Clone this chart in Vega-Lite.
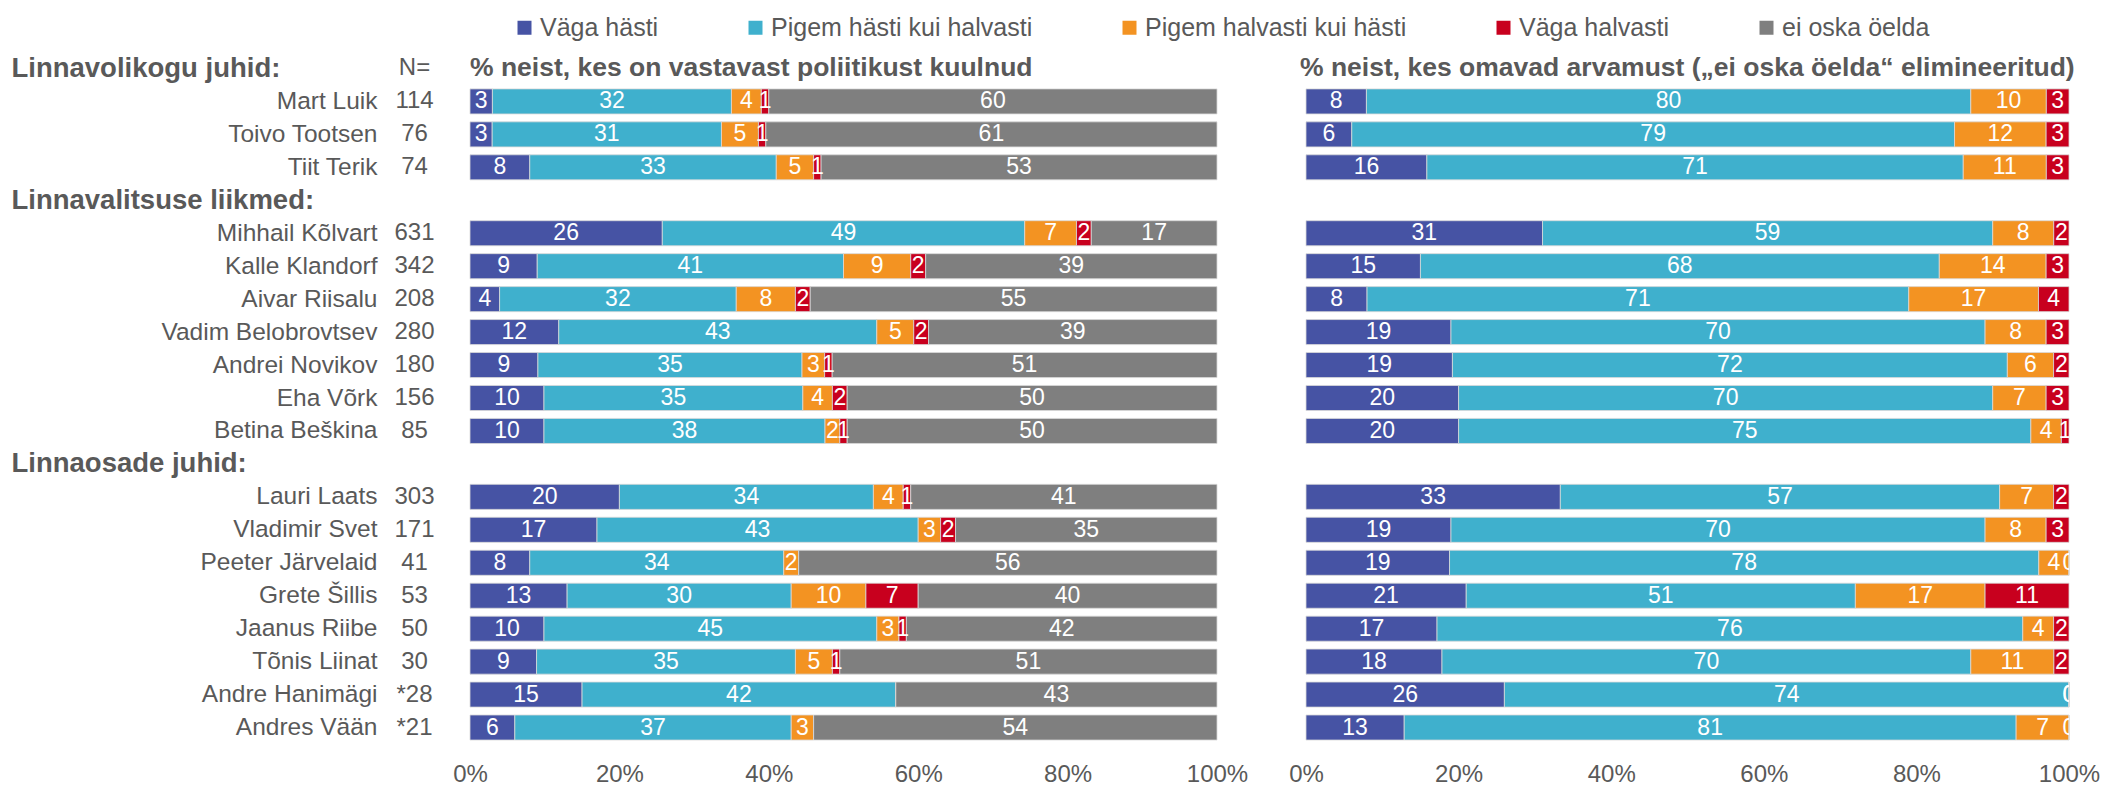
{
  "$schema": "https://vega.github.io/schema/vega-lite/v6.json",
  "padding": {"left": 11, "top": 15, "right": 5, "bottom": 0},
  "autosize": {"type": "pad"},
  "datasets": {
    "cats": [
      {"k": "Väga hästi", "rank": 1},
      {"k": "Pigem hästi kui halvasti", "rank": 2},
      {"k": "Pigem halvasti kui hästi", "rank": 3},
      {"k": "Väga halvasti", "rank": 4},
      {"k": "ei oska öelda", "rank": 5}
    ],
    "N": [
      {"r": "Linnavolikogu juhid:", "n": "N="},
      {"r": "Mart Luik", "n": "114"},
      {"r": "Toivo Tootsen", "n": "76"},
      {"r": "Tiit Terik", "n": "74"},
      {"r": "Mihhail Kõlvart", "n": "631"},
      {"r": "Kalle Klandorf", "n": "342"},
      {"r": "Aivar Riisalu", "n": "208"},
      {"r": "Vadim Belobrovtsev", "n": "280"},
      {"r": "Andrei Novikov", "n": "180"},
      {"r": "Eha Võrk", "n": "156"},
      {"r": "Betina Beškina", "n": "85"},
      {"r": "Lauri Laats", "n": "303"},
      {"r": "Vladimir Svet", "n": "171"},
      {"r": "Peeter Järvelaid", "n": "41"},
      {"r": "Grete Šillis", "n": "53"},
      {"r": "Jaanus Riibe", "n": "50"},
      {"r": "Tõnis Liinat", "n": "30"},
      {"r": "Andre Hanimägi", "n": "*28"},
      {"r": "Andres Vään", "n": "*21"}
    ],
    "L": [
      {"r": "Mart Luik", "Väga hästi": 3, "Pigem hästi kui halvasti": 32, "Pigem halvasti kui hästi": 4, "Väga halvasti": 1, "ei oska öelda": 60},
      {"r": "Toivo Tootsen", "Väga hästi": 3, "Pigem hästi kui halvasti": 31, "Pigem halvasti kui hästi": 5, "Väga halvasti": 1, "ei oska öelda": 61},
      {"r": "Tiit Terik", "Väga hästi": 8, "Pigem hästi kui halvasti": 33, "Pigem halvasti kui hästi": 5, "Väga halvasti": 1, "ei oska öelda": 53},
      {"r": "Mihhail Kõlvart", "Väga hästi": 26, "Pigem hästi kui halvasti": 49, "Pigem halvasti kui hästi": 7, "Väga halvasti": 2, "ei oska öelda": 17},
      {"r": "Kalle Klandorf", "Väga hästi": 9, "Pigem hästi kui halvasti": 41, "Pigem halvasti kui hästi": 9, "Väga halvasti": 2, "ei oska öelda": 39},
      {"r": "Aivar Riisalu", "Väga hästi": 4, "Pigem hästi kui halvasti": 32, "Pigem halvasti kui hästi": 8, "Väga halvasti": 2, "ei oska öelda": 55},
      {"r": "Vadim Belobrovtsev", "Väga hästi": 12, "Pigem hästi kui halvasti": 43, "Pigem halvasti kui hästi": 5, "Väga halvasti": 2, "ei oska öelda": 39},
      {"r": "Andrei Novikov", "Väga hästi": 9, "Pigem hästi kui halvasti": 35, "Pigem halvasti kui hästi": 3, "Väga halvasti": 1, "ei oska öelda": 51},
      {"r": "Eha Võrk", "Väga hästi": 10, "Pigem hästi kui halvasti": 35, "Pigem halvasti kui hästi": 4, "Väga halvasti": 2, "ei oska öelda": 50},
      {"r": "Betina Beškina", "Väga hästi": 10, "Pigem hästi kui halvasti": 38, "Pigem halvasti kui hästi": 2, "Väga halvasti": 1, "ei oska öelda": 50},
      {"r": "Lauri Laats", "Väga hästi": 20, "Pigem hästi kui halvasti": 34, "Pigem halvasti kui hästi": 4, "Väga halvasti": 1, "ei oska öelda": 41},
      {"r": "Vladimir Svet", "Väga hästi": 17, "Pigem hästi kui halvasti": 43, "Pigem halvasti kui hästi": 3, "Väga halvasti": 2, "ei oska öelda": 35},
      {"r": "Peeter Järvelaid", "Väga hästi": 8, "Pigem hästi kui halvasti": 34, "Pigem halvasti kui hästi": 2, "Väga halvasti": 0, "ei oska öelda": 56},
      {"r": "Grete Šillis", "Väga hästi": 13, "Pigem hästi kui halvasti": 30, "Pigem halvasti kui hästi": 10, "Väga halvasti": 7, "ei oska öelda": 40},
      {"r": "Jaanus Riibe", "Väga hästi": 10, "Pigem hästi kui halvasti": 45, "Pigem halvasti kui hästi": 3, "Väga halvasti": 1, "ei oska öelda": 42},
      {"r": "Tõnis Liinat", "Väga hästi": 9, "Pigem hästi kui halvasti": 35, "Pigem halvasti kui hästi": 5, "Väga halvasti": 1, "ei oska öelda": 51},
      {"r": "Andre Hanimägi", "Väga hästi": 15, "Pigem hästi kui halvasti": 42, "Pigem halvasti kui hästi": 0, "Väga halvasti": 0, "ei oska öelda": 43},
      {"r": "Andres Vään", "Väga hästi": 6, "Pigem hästi kui halvasti": 37, "Pigem halvasti kui hästi": 3, "Väga halvasti": 0, "ei oska öelda": 54}
    ],
    "R": [
      {"r": "Mart Luik", "Väga hästi": 8, "Pigem hästi kui halvasti": 80, "Pigem halvasti kui hästi": 10, "Väga halvasti": 3},
      {"r": "Toivo Tootsen", "Väga hästi": 6, "Pigem hästi kui halvasti": 79, "Pigem halvasti kui hästi": 12, "Väga halvasti": 3},
      {"r": "Tiit Terik", "Väga hästi": 16, "Pigem hästi kui halvasti": 71, "Pigem halvasti kui hästi": 11, "Väga halvasti": 3},
      {"r": "Mihhail Kõlvart", "Väga hästi": 31, "Pigem hästi kui halvasti": 59, "Pigem halvasti kui hästi": 8, "Väga halvasti": 2},
      {"r": "Kalle Klandorf", "Väga hästi": 15, "Pigem hästi kui halvasti": 68, "Pigem halvasti kui hästi": 14, "Väga halvasti": 3},
      {"r": "Aivar Riisalu", "Väga hästi": 8, "Pigem hästi kui halvasti": 71, "Pigem halvasti kui hästi": 17, "Väga halvasti": 4},
      {"r": "Vadim Belobrovtsev", "Väga hästi": 19, "Pigem hästi kui halvasti": 70, "Pigem halvasti kui hästi": 8, "Väga halvasti": 3},
      {"r": "Andrei Novikov", "Väga hästi": 19, "Pigem hästi kui halvasti": 72, "Pigem halvasti kui hästi": 6, "Väga halvasti": 2},
      {"r": "Eha Võrk", "Väga hästi": 20, "Pigem hästi kui halvasti": 70, "Pigem halvasti kui hästi": 7, "Väga halvasti": 3},
      {"r": "Betina Beškina", "Väga hästi": 20, "Pigem hästi kui halvasti": 75, "Pigem halvasti kui hästi": 4, "Väga halvasti": 1},
      {"r": "Lauri Laats", "Väga hästi": 33, "Pigem hästi kui halvasti": 57, "Pigem halvasti kui hästi": 7, "Väga halvasti": 2},
      {"r": "Vladimir Svet", "Väga hästi": 19, "Pigem hästi kui halvasti": 70, "Pigem halvasti kui hästi": 8, "Väga halvasti": 3},
      {"r": "Peeter Järvelaid", "Väga hästi": 19, "Pigem hästi kui halvasti": 78, "Pigem halvasti kui hästi": 4, "Väga halvasti": 0},
      {"r": "Grete Šillis", "Väga hästi": 21, "Pigem hästi kui halvasti": 51, "Pigem halvasti kui hästi": 17, "Väga halvasti": 11},
      {"r": "Jaanus Riibe", "Väga hästi": 17, "Pigem hästi kui halvasti": 76, "Pigem halvasti kui hästi": 4, "Väga halvasti": 2},
      {"r": "Tõnis Liinat", "Väga hästi": 18, "Pigem hästi kui halvasti": 70, "Pigem halvasti kui hästi": 11, "Väga halvasti": 2},
      {"r": "Andre Hanimägi", "Väga hästi": 26, "Pigem hästi kui halvasti": 74, "Pigem halvasti kui hästi": 0, "Väga halvasti": 0},
      {"r": "Andres Vään", "Väga hästi": 13, "Pigem hästi kui halvasti": 81, "Pigem halvasti kui hästi": 7, "Väga halvasti": 0}
    ]
  },
  "hconcat": [
    {
      "width": 45,
      "height": 692,
      "data": {"name": "N"},
      "mark": {"type": "text", "fontSize": 24, "color": "#595959", "baseline": "middle"},
      "encoding": {
        "y": {
          "field": "r", "type": "nominal",
          "scale": {"domain": ["Linnavolikogu juhid:", "Mart Luik", "Toivo Tootsen", "Tiit Terik", "Linnavalitsuse liikmed:", "Mihhail Kõlvart", "Kalle Klandorf", "Aivar Riisalu", "Vadim Belobrovtsev", "Andrei Novikov", "Eha Võrk", "Betina Beškina", "Linnaosade juhid:", "Lauri Laats", "Vladimir Svet", "Peeter Järvelaid", "Grete Šillis", "Jaanus Riibe", "Tõnis Liinat", "Andre Hanimägi", "Andres Vään"], "paddingInner": 0.24, "paddingOuter": 0.12},
          "axis": {
            "title": null, "domain": false, "ticks": false, "grid": false, "labelLimit": 0,
            "labelColor": "#595959",
            "labelFontSize": {"condition": {"test": "indexof(datum.value, ':') >= 0", "value": 27.5}, "value": 24.5},
            "labelAlign": {"condition": {"test": "indexof(datum.value, ':') >= 0", "value": "left"}, "value": "right"},
            "labelPadding": {"condition": {"test": "indexof(datum.value, ':') >= 0", "value": 381}, "value": 15},
            "labelFontWeight": {"condition": {"test": "indexof(datum.value, ':') >= 0", "value": "bold"}, "value": "normal"}
          }
        },
        "text": {"field": "n"}
      }
    },
    {
      "width": 803,
      "height": 692,
      "data": {"name": "L"},
      "transform": [
        {"fold": ["Väga hästi", "Pigem hästi kui halvasti", "Pigem halvasti kui hästi", "Väga halvasti", "ei oska öelda"], "as": ["k", "v"]},
        {"lookup": "k", "from": {"data": {"name": "cats"}, "key": "k", "fields": ["rank"]}}
      ],
      "encoding": {
        "y": {
          "field": "r", "type": "nominal",
          "scale": {"domain": ["Linnavolikogu juhid:", "Mart Luik", "Toivo Tootsen", "Tiit Terik", "Linnavalitsuse liikmed:", "Mihhail Kõlvart", "Kalle Klandorf", "Aivar Riisalu", "Vadim Belobrovtsev", "Andrei Novikov", "Eha Võrk", "Betina Beškina", "Linnaosade juhid:", "Lauri Laats", "Vladimir Svet", "Peeter Järvelaid", "Grete Šillis", "Jaanus Riibe", "Tõnis Liinat", "Andre Hanimägi", "Andres Vään"], "paddingInner": 0.24, "paddingOuter": 0.12},
          "axis": null
        }
      },
      "layer": [
        {
          "mark": {"type": "bar", "stroke": "#d9d9d9", "strokeWidth": 0.8},
          "encoding": {
            "x": {
              "field": "v", "type": "quantitative", "stack": "normalize",
              "scale": {"range": [0, 747]},
              "axis": {"title": null, "format": ".0%", "values": [0, 0.2, 0.4, 0.6, 0.8, 1], "domain": false, "ticks": false, "grid": false, "labelFontSize": 24, "labelColor": "#595959", "labelPadding": 18, "labelFlush": false}
            },
            "color": {
              "field": "k", "type": "nominal",
              "scale": {"domain": ["Väga hästi", "Pigem hästi kui halvasti", "Pigem halvasti kui hästi", "Väga halvasti", "ei oska öelda"], "range": ["#4653A4", "#3FB0CD", "#F39322", "#C8001E", "#7F7F7F"]},
              "legend": {"title": null, "orient": "none", "legendX": 120, "legendY": -37, "direction": "horizontal", "symbolType": "square", "symbolSize": 196, "symbolStrokeWidth": 0, "labelFontSize": 25, "labelColor": "#595959", "columnPadding": 84, "labelOffset": 3, "labelLimit": 0}
            },
            "order": {"field": "rank"}
          }
        },
        {
          "transform": [{"filter": "datum.v > 0"}],
          "mark": {"type": "text", "color": "white", "fontSize": 23, "baseline": "middle", "clip": true},
          "encoding": {
            "x": {"field": "v", "type": "quantitative", "stack": "normalize", "bandPosition": 0.5},
            "detail": {"field": "k"},
            "order": {"field": "rank"},
            "text": {"field": "v"}
          }
        },
        {
          "data": {"values": [{"r": "Linnavolikogu juhid:", "t": "% neist, kes on vastavast poliitikust kuulnud"}]},
          "mark": {"type": "text", "align": "left", "baseline": "middle", "fontWeight": "bold", "fontSize": 26.5, "color": "#595959"},
          "encoding": {"x": {"datum": 0, "type": "quantitative"}, "text": {"field": "t"}}
        }
      ]
    },
    {
      "width": 763,
      "height": 692,
      "data": {"name": "R"},
      "transform": [
        {"fold": ["Väga hästi", "Pigem hästi kui halvasti", "Pigem halvasti kui hästi", "Väga halvasti"], "as": ["k", "v"]},
        {"lookup": "k", "from": {"data": {"name": "cats"}, "key": "k", "fields": ["rank"]}}
      ],
      "encoding": {
        "y": {
          "field": "r", "type": "nominal",
          "scale": {"domain": ["Linnavolikogu juhid:", "Mart Luik", "Toivo Tootsen", "Tiit Terik", "Linnavalitsuse liikmed:", "Mihhail Kõlvart", "Kalle Klandorf", "Aivar Riisalu", "Vadim Belobrovtsev", "Andrei Novikov", "Eha Võrk", "Betina Beškina", "Linnaosade juhid:", "Lauri Laats", "Vladimir Svet", "Peeter Järvelaid", "Grete Šillis", "Jaanus Riibe", "Tõnis Liinat", "Andre Hanimägi", "Andres Vään"], "paddingInner": 0.24, "paddingOuter": 0.12},
          "axis": null
        }
      },
      "layer": [
        {
          "mark": {"type": "bar", "stroke": "#d9d9d9", "strokeWidth": 0.8},
          "encoding": {
            "x": {
              "field": "v", "type": "quantitative", "stack": "normalize",
              "axis": {"title": null, "format": ".0%", "values": [0, 0.2, 0.4, 0.6, 0.8, 1], "domain": false, "ticks": false, "grid": false, "labelFontSize": 24, "labelColor": "#595959", "labelPadding": 18, "labelFlush": false}
            },
            "color": {
              "field": "k", "type": "nominal",
              "scale": {"domain": ["Väga hästi", "Pigem hästi kui halvasti", "Pigem halvasti kui hästi", "Väga halvasti", "ei oska öelda"], "range": ["#4653A4", "#3FB0CD", "#F39322", "#C8001E", "#7F7F7F"]},
              "legend": null
            },
            "order": {"field": "rank"}
          }
        },
        {
          "mark": {"type": "text", "color": "white", "fontSize": 23, "baseline": "middle", "clip": true},
          "encoding": {
            "x": {"field": "v", "type": "quantitative", "stack": "normalize", "bandPosition": 0.5},
            "detail": {"field": "k"},
            "order": {"field": "rank"},
            "text": {"field": "v"}
          }
        },
        {
          "data": {"values": [{"r": "Linnavolikogu juhid:", "t": "% neist, kes omavad arvamust („ei oska öelda“ elimineeritud)"}]},
          "mark": {"type": "text", "align": "left", "baseline": "middle", "fontWeight": "bold", "fontSize": 26.5, "color": "#595959", "dx": -6},
          "encoding": {"x": {"datum": 0, "type": "quantitative"}, "text": {"field": "t"}}
        }
      ]
    }
  ],
  "spacing": 33,
  "bounds": "flush",
  "resolve": {"scale": {"color": "shared"}, "legend": {"color": "shared"}},
  "config": {
    "font": "Liberation Sans",
    "view": {"stroke": null},
    "axis": {"labelFont": "Liberation Sans"},
    "legend": {"labelFont": "Liberation Sans"}
  }
}
